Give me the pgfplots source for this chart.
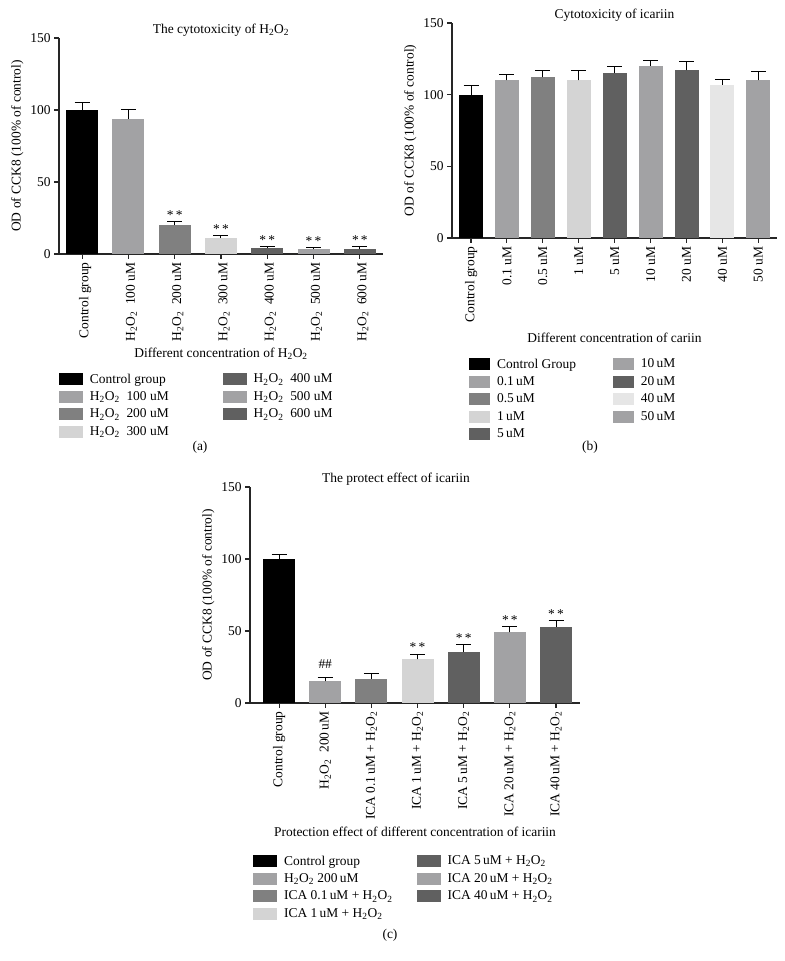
\documentclass[border=0pt]{standalone}
\usepackage{fontspec}
\setmainfont{Liberation Serif}
\usepackage{pgfplots}
\pgfplotsset{compat=1.18}
\definecolor{cA}{HTML}{A2A2A4}
\definecolor{cB}{HTML}{808080}
\definecolor{cC}{HTML}{D4D4D4}
\definecolor{cD}{HTML}{606060}
\definecolor{cE}{HTML}{E6E6E6}
\newcommand{\HH}{H\textsubscript{2}O\textsubscript{2}}
\newcommand{\fs}{\fontsize{13.5}{15}\selectfont}
\pgfplotsset{
  gp/.style={
    scale only axis,
    axis x line*=bottom, axis y line*=left,
    axis line style={line width=1.1bp, black!85},
    ymin=0, ymax=150, ytick={0,50,100,150},
    tick align=outside, major tick length=5bp,
    tick style={line width=1.1bp, black!85},
    /pgf/number format/assume math mode=true,
    tick label style={font=\fs},
    label style={font=\fs},
    title style={font=\fs, at={(0.5,1)}, anchor=center, yshift=2bp},
    xticklabel style={rotate=90, anchor=east},
    legend cell align=left,
    legend columns=2,
    legend style={draw=none, fill=none, font=\fs, anchor=north west, row sep=3bp},
    legend image code/.code={\fill[##1] (0bp,-6bp) rectangle (24bp,6bp); \path (29bp,0bp);},
    clip=false,
  },
  bb/.style={ybar, bar width=#1, bar shift=0pt, draw=none,
    error bars/y dir=plus, error bars/y explicit,
    error bars/error bar style={line width=1bp, black},
    error bars/error mark options={rotate=90, line width=1bp, mark size=7.5bp, black}},
  st/.style={draw=none, mark=none, forget plot, nodes near coords={#1},
    every node near coord/.append style={anchor=south, inner sep=0pt, yshift=2bp, font=\fs}},
}
\begin{document}
\begin{tikzpicture}
\useasboundingbox (0,0) rectangle (785bp,961bp);
% ---------------- (a)
\begin{axis}[gp, at={(59bp,707bp)}, anchor=south west, width=324bp, height=216bp,
  xmin=-0.5, xmax=6.5, xtick={0,...,6},
  xticklabels={Control group, \HH\enspace 100 uM, \HH\enspace 200 uM, \HH\enspace 300 uM, \HH\enspace 400 uM, \HH\enspace 500 uM, \HH\enspace 600 uM},
  xticklabel style={yshift=-3bp},
  title={The cytotoxicity of \HH},
  xlabel={Different concentration of \HH},
  ylabel={OD of CCK8 (100\% of control)},
  legend style={at={(-0.01,-0.535)}, /tikz/every even column/.style={column sep=52bp}}]
\addplot[bb=32bp, fill=black] coordinates {(0,100) +- (0,5)};
\addlegendentry{Control group}
\addplot[bb=32bp, fill=cD] coordinates {(4,4) +- (0,1.3)};
\addlegendentry{\HH\enspace 400 uM}
\addplot[bb=32bp, fill=cA] coordinates {(1,94) +- (0,6)};
\addlegendentry{\HH\enspace 100 uM}
\addplot[bb=32bp, fill=cA] coordinates {(5,3.2) +- (0,1)};
\addlegendentry{\HH\enspace 500 uM}
\addplot[bb=32bp, fill=cB] coordinates {(2,20) +- (0,2.7)};
\addlegendentry{\HH\enspace 200 uM}
\addplot[bb=32bp, fill=cD] coordinates {(6,3.2) +- (0,1.8)};
\addlegendentry{\HH\enspace 600 uM}
\addplot[bb=32bp, fill=cC] coordinates {(3,11) +- (0,1.5)};
\addlegendentry{\HH\enspace 300 uM}
\addplot[st={*\,*}] coordinates {(2,22.7) (3,12.5) (4,5.3) (5,4.2) (6,5)};
\end{axis}
% ---------------- (b)
\begin{axis}[gp, at={(452bp,723bp)}, anchor=south west, width=325bp, height=215bp,
  xmin=-0.53, xmax=8.52, xtick={0,...,8},
  xticklabels={Control group, 0.1 uM, 0.5 uM, 1 uM, 5 uM, 10 uM, 20 uM, 40 uM, 50 uM},
  title={Cytotoxicity of icariin},
  xlabel={Different concentration of cariin},
  xlabel style={yshift=-4bp},
  ylabel={OD of CCK8 (100\% of control)},
  legend image code/.code={\fill[#1] (0bp,-6bp) rectangle (21bp,6bp); \path (26bp,0bp);},
  legend style={at={(0.043,-0.542)}, /tikz/every even column/.style={column sep=35bp}}]
\addplot[bb=24bp, fill=black] coordinates {(0,100) +- (0,6.3)};
\addlegendentry{Control Group}
\addplot[bb=24bp, fill=cA] coordinates {(5,120) +- (0,3.8)};
\addlegendentry{10\,uM}
\addplot[bb=24bp, fill=cA] coordinates {(1,110) +- (0,3.8)};
\addlegendentry{0.1\,uM}
\addplot[bb=24bp, fill=cD] coordinates {(6,117) +- (0,6)};
\addlegendentry{20\,uM}
\addplot[bb=24bp, fill=cB] coordinates {(2,112) +- (0,4.9)};
\addlegendentry{0.5\,uM}
\addplot[bb=24bp, fill=cE] coordinates {(7,107) +- (0,3.8)};
\addlegendentry{40\,uM}
\addplot[bb=24bp, fill=cC] coordinates {(3,110) +- (0,6.9)};
\addlegendentry{1\,uM}
\addplot[bb=24bp, fill=cA] coordinates {(8,110) +- (0,6.2)};
\addlegendentry{50\,uM}
\addplot[bb=24bp, fill=cD] coordinates {(4,115) +- (0,4.4)};
\addlegendentry{5\,uM}
\end{axis}
% ---------------- (c)
\begin{axis}[gp, at={(250bp,258bp)}, anchor=south west, width=330bp, height=216bp,
  xmin=-0.63, xmax=6.52, xtick={0,...,6},
  xticklabels={Control group, \HH\enspace 200\,uM, ICA 0.1\,uM + \HH, ICA 1\,uM + \HH, ICA 5\,uM + \HH, ICA 20\,uM + \HH, ICA 40\,uM + \HH},
  title={The protect effect of icariin},
  title style={xshift=-19bp},
  xlabel={Protection effect of different concentration of icariin},
  ylabel={OD of CCK8 (100\% of control)},
  legend style={at={(0,-0.6875)}, /tikz/every even column/.style={column sep=22bp}}]
\addplot[bb=32bp, fill=black] coordinates {(0,100) +- (0,2.9)};
\addlegendentry{Control group}
\addplot[bb=32bp, fill=cD] coordinates {(4,35.4) +- (0,5.3)};
\addlegendentry{ICA 5\,uM + \HH}
\addplot[bb=32bp, fill=cA] coordinates {(1,15) +- (0,3)};
\addlegendentry{\HH\ 200\,uM}
\addplot[bb=32bp, fill=cA] coordinates {(5,49) +- (0,4)};
\addlegendentry{ICA 20\,uM + \HH}
\addplot[bb=32bp, fill=cB] coordinates {(2,16.7) +- (0,3.9)};
\addlegendentry{ICA 0.1\,uM + \HH}
\addplot[bb=32bp, fill=cD] coordinates {(6,53) +- (0,4.2)};
\addlegendentry{ICA 40\,uM + \HH}
\addplot[bb=32bp, fill=cC] coordinates {(3,30.3) +- (0,3.7)};
\addlegendentry{ICA 1\,uM + \HH}
\addplot[st={\#\#}, every node near coord/.append style={yshift=6bp}] coordinates {(1,18)};
\addplot[st={*\,*}] coordinates {(3,34) (4,40.7) (5,53) (6,57.2)};
\end{axis}
\node[font=\fs] at (200bp,514bp) {(a)};
\node[font=\fs] at (590bp,514bp) {(b)};
\node[font=\fs] at (390bp,26bp) {(c)};
\end{tikzpicture}
\end{document}
